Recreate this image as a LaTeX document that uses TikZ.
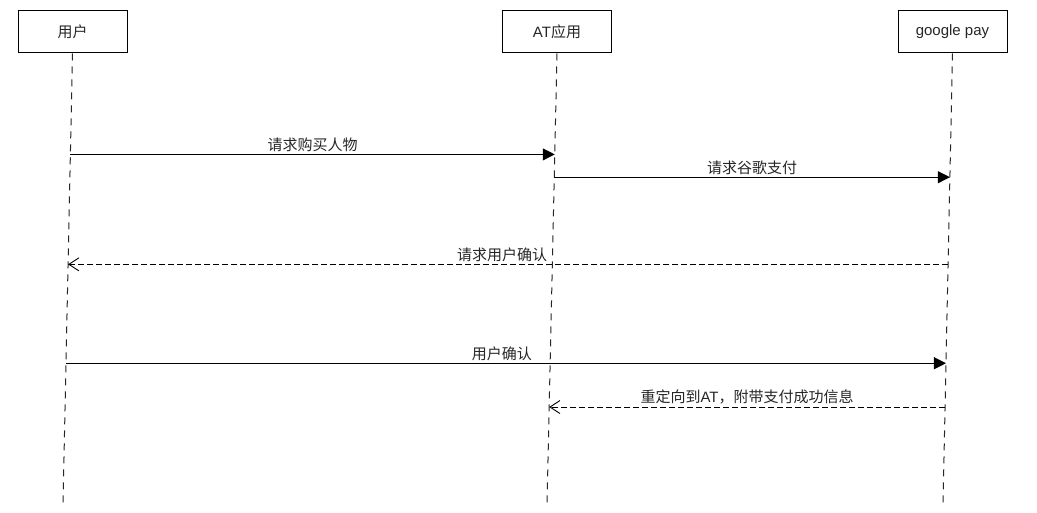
\documentclass[tikz,border=0pt]{standalone}
\usepackage{fontspec}
\setmainfont{Liberation Sans}
\newfontfamily\cjk{Noto Sans CJK SC}
\usetikzlibrary{arrows.meta,calc}

\begin{document}
\begin{tikzpicture}[x=1pt,y=-1pt,font=\fontsize{15}{17}\selectfont,
  actor/.style={draw,line width=1pt,minimum width=109pt,minimum height=42pt,inner sep=0pt,text=black!85},
  lifeline/.style={line width=1pt,dash pattern=on 7pt off 6pt,black!85},
  call/.style={line width=1pt,-{Triangle[length=12pt,width=12pt]}},
  reply/.style={line width=0.9pt,dash pattern=on 6pt off 3pt,-{Straight Barb[length=10pt,width=13pt,line width=0.9pt]}},
  msg/.style={midway,above,inner sep=2pt,text=black!85}]
\useasboundingbox (0,0) rectangle (1037,513);
% actors
\node[actor] (user) at (72.5,32) {\cjk 用户};
\node[actor] (app) at (557,32) {AT{\cjk 应用}};
\node[actor] (pay) at (952.5,32) {google pay};
% lifelines, slightly leaning
\coordinate (userend) at (63,505);
\coordinate (append) at (547,505);
\coordinate (payend) at (943,505);
\draw[lifeline] (user.south) -- (userend);
\draw[lifeline] (app.south) -- (append);
\draw[lifeline] (pay.south) -- (payend);
% message points on the lifelines
\foreach \n/\t in {a/0.2235,b/0.274,c/0.467,d/0.686,e/0.783}{
  \coordinate (user-\n) at ($(user.south)!\t!(userend)$);
  \coordinate (app-\n) at ($(app.south)!\t!(append)$);
  \coordinate (pay-\n) at ($(pay.south)!\t!(payend)$);
}
% messages
\draw[call] (user-a) -- (app-a) node[msg] {\cjk 请求购买人物};
\draw[call] (app-b) -- (pay-b) node[msg] {\cjk 请求谷歌支付};
\draw[reply] (pay-c) -- (user-c) node[msg,xshift=-6pt] {\cjk 请求用户确认};
\draw[call] (user-d) -- (pay-d) node[msg,xshift=-4pt] {\cjk 用户确认};
\draw[reply] (pay-e) -- (app-e) node[msg] {{\cjk 重定向到}AT{\cjk ，附带支付成功信息}};
\end{tikzpicture}
\end{document}
